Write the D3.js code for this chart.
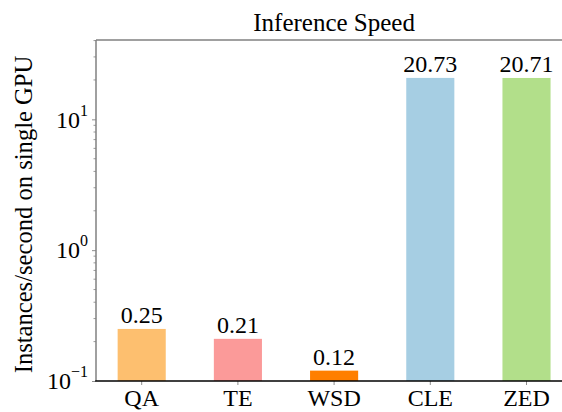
<!DOCTYPE html>
<html><head><meta charset="utf-8">
<script src="https://cdn.jsdelivr.net/npm/d3@7"></script>
</head><body style="margin:0">
<script>
const categories = ["QA", "TE", "WSD", "CLE", "ZED"];
const values = [0.25, 0.21, 0.12, 20.73, 20.71];
const labels = ["0.25", "0.21", "0.12", "20.73", "20.71"];
const colors = ["#fdbf6f", "#fb9a99", "#ff7f00", "#a6cee3", "#b2df8a"];
const majorTicks = [0.1, 1, 10];
const majorExp = ["−1", "0", "1"];
const title = "Inference Speed";
const yLabel = "Instances/second on single GPU";

const W = 562, H = 412;
const L = 96, R = 572.2, T = 40, B = 381;
const FF = "Times New Roman";

const svg = d3.select("body").append("svg").attr("width", W).attr("height", H)
  .style("display", "block").style("font-family", `"${FF}"`);

const x = d3.scaleBand().domain(categories).range([L, R]).paddingInner(0.5).paddingOuter(0.225);
const y = d3.scaleLog().domain([0.1, 40.4]).range([B, T]);

// bars
svg.selectAll("rect.bar").data(categories).join("rect")
  .attr("class", "bar")
  .attr("x", d => x(d))
  .attr("width", x.bandwidth())
  .attr("y", (d, i) => y(values[i]))
  .attr("height", (d, i) => B - y(values[i]))
  .attr("fill", (d, i) => colors[i]);

// bar labels
svg.selectAll("text.vl").data(categories).join("text")
  .attr("class", "vl")
  .attr("x", d => x(d) + x.bandwidth() / 2)
  .attr("y", (d, i) => y(values[i]) - 6)
  .attr("text-anchor", "middle")
  .style("font-family", `"${FF}"`).attr("font-size", 24)
  .attr("fill", "#000")
  .text((d, i) => labels[i]);

// minor ticks
const minor = [];
[0.1, 1, 10].forEach(dec => { for (let k = 2; k <= 9; k++) { const v = dec * k; if (v <= 40.4) minor.push(v); } });
svg.selectAll("line.minor").data(minor).join("line")
  .attr("x1", L - 2.5).attr("x2", L)
  .attr("y1", d => y(d)).attr("y2", d => y(d))
  .attr("stroke", "#808080").attr("stroke-width", 0.8);

// y axis major
const yAxis = d3.axisLeft(y).tickValues(majorTicks).tickSize(4).tickFormat("");
const gy = svg.append("g").attr("transform", `translate(${L},0)`).call(yAxis);
gy.attr("font-family", null).attr("font-size", null);
gy.select(".domain").remove();
gy.selectAll(".tick line").attr("stroke", "#808080").attr("stroke-width", 0.9);
gy.selectAll(".tick").each(function(d, i) {
  const t = d3.select(this).append("text")
    .attr("x", -8).attr("dy", "0.32em")
    .attr("text-anchor", "end").attr("fill", "#000")
    .style("font-family", `"${FF}"`).attr("font-size", 24);
  t.append("tspan").text("10");
  t.append("tspan").attr("font-size", 16).attr("dy", "-0.75em").text(majorExp[i]);
});

// x axis
const xAxis = d3.axisBottom(x).tickSize(4).tickPadding(4);
const gx = svg.append("g").attr("transform", `translate(0,${B})`).call(xAxis);
gx.attr("font-family", null).attr("font-size", null);
gx.select(".domain").remove();
gx.selectAll(".tick line").attr("stroke", "#808080").attr("stroke-width", 0.9);
gx.selectAll(".tick text").style("font-family", `"${FF}"`).attr("font-size", 24).attr("fill", "#000")
  .attr("y", 25).attr("dy", 0);

// spines
svg.append("line").attr("x1", L).attr("x2", R).attr("y1", T).attr("y2", T)
  .attr("stroke", "#808080").attr("stroke-width", 1.5);
svg.append("line").attr("x1", L).attr("x2", L).attr("y1", T).attr("y2", B)
  .attr("stroke", "#808080").attr("stroke-width", 1.5);
svg.append("line").attr("x1", L - 0.75).attr("x2", R).attr("y1", B).attr("y2", B)
  .attr("stroke", "#000").attr("stroke-width", 1.5);

// title
svg.append("text").attr("x", (L + R) / 2).attr("y", 31).attr("text-anchor", "middle")
  .style("font-family", `"${FF}"`).attr("font-size", 25).attr("fill", "#000").text(title);

// y label
svg.append("text").attr("transform", `translate(32,${(T + B) / 2 + 4}) rotate(-90)`)
  .attr("text-anchor", "middle").style("font-family", `"${FF}"`).attr("font-size", 24.6)
  .attr("fill", "#000").text(yLabel);
</script>
</body></html>
